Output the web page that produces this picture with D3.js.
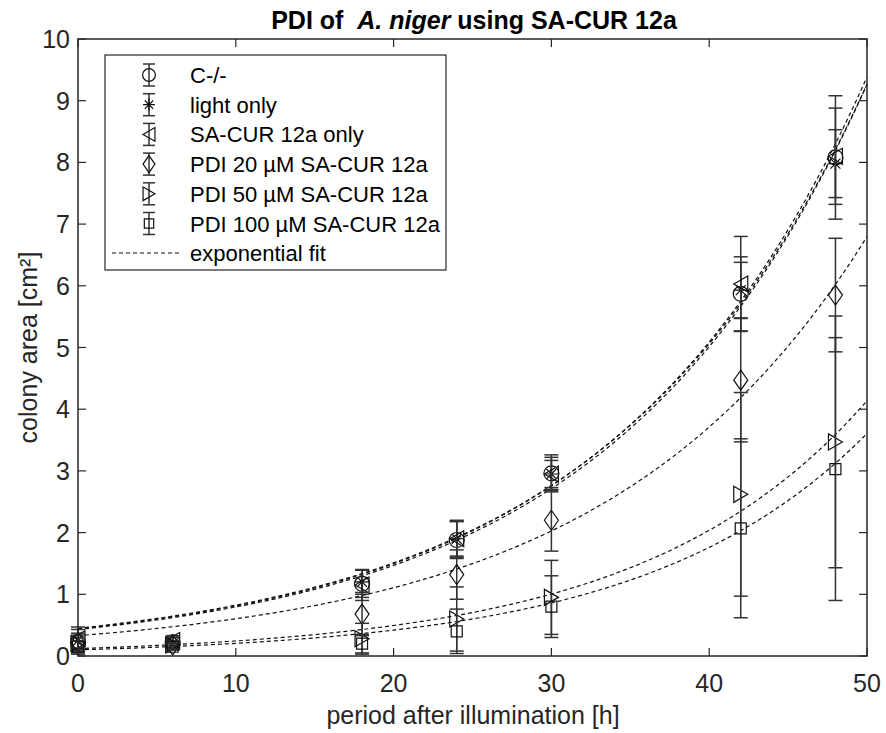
<!DOCTYPE html>
<html><head><meta charset="utf-8">
<script src="https://cdn.jsdelivr.net/npm/d3@7"></script>
<style>body{margin:0;background:#fff}</style></head>
<body><svg id="c" width="886" height="733"></svg>
<script>
// ---------- data ----------
const hours = [0, 6, 18, 24, 30, 42, 48];
const seriesNames = ["C-/-", "light only", "SA-CUR 12a only", "PDI 20 µM SA-CUR 12a", "PDI 50 µM SA-CUR 12a", "PDI 100 µM SA-CUR 12a"];
const markerTypes = ["circle", "star", "triLeft", "diamond", "triRight", "square"];
const meanControl = [0.22, 0.22, 1.17, 1.88, 2.96, 5.87, 8.08];
const sdControl   = [0.15, 0.08, 0.22, 0.30, 0.30, 0.60, 1.00];
const meanLight   = [0.25, 0.20, 1.20, 1.90, 2.95, 5.93, 7.98];
const sdLight     = [0.22, 0.10, 0.20, 0.30, 0.27, 0.45, 0.55];
const meanSA      = [0.28, 0.25, 1.15, 1.90, 2.95, 6.03, 8.10];
const sdSA        = [0.15, 0.08, 0.25, 0.28, 0.22, 0.77, 0.78];
const mean20      = [0.22, 0.18, 0.68, 1.32, 2.20, 4.47, 5.85];
const sd20        = [0.12, 0.06, 0.35, 0.40, 0.50, 1.00, 0.92];
const mean50      = [0.20, 0.18, 0.28, 0.60, 0.95, 2.62, 3.47];
const sd50        = [0.10, 0.07, 0.25, 0.52, 0.60, 1.65, 2.04];
const mean100     = [0.15, 0.15, 0.20, 0.40, 0.80, 2.07, 3.03];
const sd100       = [0.10, 0.05, 0.15, 0.36, 0.50, 1.45, 2.13];
// exponential fit parameters y = a * exp(b * t)
const fitA = [0.44, 0.43, 0.45, 0.33, 0.12, 0.10];
const fitB = [0.0612, 0.0614, 0.0605, 0.0605, 0.0708, 0.0717];
const xTicks = [0, 10, 20, 30, 40, 50];
const yTicks = [0, 1, 2, 3, 4, 5, 6, 7, 8, 9, 10];

const means = [meanControl, meanLight, meanSA, mean20, mean50, mean100];
const sds = [sdControl, sdLight, sdSA, sd20, sd50, sd100];

// ---------- layout ----------
const L = 78, R = 867, T = 39, B = 656;
const svg = d3.select("#c");
const font = "'Liberation Sans', Arial, sans-serif";
const axisCol = "#262626";
const x = d3.scaleLinear().domain([0, 50]).range([L, R]);
const y = d3.scaleLinear().domain([0, 10]).range([B, T]);

// fits
const fitLine = d3.line().x(d => x(d[0])).y(d => y(d[1]));
const tGrid = d3.range(0, 50.001, 0.5);
fitA.forEach((a, i) => {
  svg.append("path")
    .attr("d", fitLine(tGrid.map(t => [t, a * Math.exp(fitB[i] * t)])))
    .attr("fill", "none").attr("stroke", "#111").attr("stroke-width", 1.2)
    .attr("stroke-dasharray", "4,3");
});

// marker paths
function markerPath(type, s) {
  const p = d3.path();
  if (type === "circle") { p.moveTo(7.5 * s, 0); p.arc(0, 0, 7.5 * s, 0, 2 * Math.PI); }
  else if (type === "star") {
    const r = 7 * s, d = r * 0.707;
    p.moveTo(-r, 0); p.lineTo(r, 0); p.moveTo(0, -r); p.lineTo(0, r);
    p.moveTo(-d, -d); p.lineTo(d, d); p.moveTo(-d, d); p.lineTo(d, -d);
  }
  else if (type === "triLeft") { p.moveTo(-7 * s, 0); p.lineTo(7 * s, -8 * s); p.lineTo(7 * s, 8 * s); p.closePath(); }
  else if (type === "triRight") { p.moveTo(7 * s, 0); p.lineTo(-7 * s, -8 * s); p.lineTo(-7 * s, 8 * s); p.closePath(); }
  else if (type === "diamond") { p.moveTo(0, -10 * s); p.lineTo(7 * s, 0); p.lineTo(0, 10 * s); p.lineTo(-7 * s, 0); p.closePath(); }
  else if (type === "square") { p.rect(-5.5 * s, -5.5 * s, 11 * s, 11 * s); }
  return p.toString();
}

// error bars + markers
const barCol = "#333";
means.forEach((m, si) => {
  const g = svg.append("g");
  hours.forEach((h, i) => {
    const cx = x(h), top = y(m[i] + sds[si][i]), bot = y(Math.max(0, m[i] - sds[si][i]));
    g.append("line").attr("x1", cx).attr("x2", cx).attr("y1", top).attr("y2", bot)
      .attr("stroke", barCol).attr("stroke-width", 1.5);
    [top, bot].forEach(yy => g.append("line").attr("x1", cx - 7).attr("x2", cx + 7)
      .attr("y1", yy).attr("y2", yy).attr("stroke", barCol).attr("stroke-width", 1.5));
    g.append("path").attr("d", markerPath(markerTypes[si], 1))
      .attr("transform", `translate(${cx},${y(m[i])})`)
      .attr("fill", "none").attr("stroke", "#111").attr("stroke-width", 1.2);
  });
});

// axes box
svg.append("rect").attr("x", L).attr("y", T).attr("width", R - L).attr("height", B - T)
  .attr("fill", "none").attr("stroke", axisCol).attr("stroke-width", 1.5);
const tk = 8;
xTicks.forEach(v => {
  svg.append("line").attr("x1", x(v)).attr("x2", x(v)).attr("y1", B).attr("y2", B - tk).attr("stroke", axisCol).attr("stroke-width", 1.2);
  svg.append("line").attr("x1", x(v)).attr("x2", x(v)).attr("y1", T).attr("y2", T + tk).attr("stroke", axisCol).attr("stroke-width", 1.2);
  svg.append("text").attr("x", x(v)).attr("y", B + 36).attr("text-anchor", "middle")
    .attr("font-family", font).attr("font-size", 25).attr("fill", axisCol).text(v);
});
yTicks.forEach(v => {
  svg.append("line").attr("x1", L).attr("x2", L + tk).attr("y1", y(v)).attr("y2", y(v)).attr("stroke", axisCol).attr("stroke-width", 1.2);
  svg.append("line").attr("x1", R).attr("x2", R - tk).attr("y1", y(v)).attr("y2", y(v)).attr("stroke", axisCol).attr("stroke-width", 1.2);
  svg.append("text").attr("x", L - 8).attr("y", y(v) + 9).attr("text-anchor", "end")
    .attr("font-family", font).attr("font-size", 25).attr("fill", axisCol).text(v);
});

// labels
svg.append("text").attr("x", 473).attr("y", 724).attr("text-anchor", "middle")
  .attr("font-family", font).attr("font-size", 25).attr("fill", axisCol).text("period after illumination [h]");
svg.append("text").attr("transform", `translate(37,${(T + B) / 2}) rotate(-90)`).attr("text-anchor", "middle")
  .attr("font-family", font).attr("font-size", 25).attr("fill", axisCol).text("colony area [cm²]");
const title = svg.append("text").attr("x", 474).attr("y", 29).attr("text-anchor", "middle")
  .attr("font-family", font).attr("font-size", 25).attr("font-weight", "bold").attr("fill", "#000")
  .attr("xml:space", "preserve");
title.append("tspan").text("PDI of  ");
title.append("tspan").attr("font-style", "italic").text("A. niger");
title.append("tspan").text(" using SA-CUR 12a");

// legend
const lg = svg.append("g");
lg.append("rect").attr("x", 105).attr("y", 55).attr("width", 341).attr("height", 215)
  .attr("fill", "#fff").attr("stroke", axisCol).attr("stroke-width", 1.2);
seriesNames.forEach((nm, i) => {
  const ly = 75 + i * 29.7, lx = 149;
  lg.append("line").attr("x1", lx).attr("x2", lx).attr("y1", ly - 11).attr("y2", ly + 11).attr("stroke", barCol).attr("stroke-width", 1.5);
  [ly - 11, ly + 11].forEach(yy => lg.append("line").attr("x1", lx - 6).attr("x2", lx + 6).attr("y1", yy).attr("y2", yy).attr("stroke", barCol).attr("stroke-width", 1.5));
  lg.append("path").attr("d", markerPath(markerTypes[i], 0.85)).attr("transform", `translate(${lx},${ly})`)
    .attr("fill", "none").attr("stroke", "#111").attr("stroke-width", 1.2);
  lg.append("text").attr("x", 190).attr("y", ly + 8).attr("font-family", font).attr("font-size", 22).attr("fill", "#000").text(nm);
});
lg.append("line").attr("x1", 112).attr("x2", 182).attr("y1", 253).attr("y2", 253)
  .attr("stroke", "#111").attr("stroke-width", 1.2).attr("stroke-dasharray", "4,3");
lg.append("text").attr("x", 190).attr("y", 261).attr("font-family", font).attr("font-size", 22).attr("fill", "#000").text("exponential fit");
</script></body></html>
